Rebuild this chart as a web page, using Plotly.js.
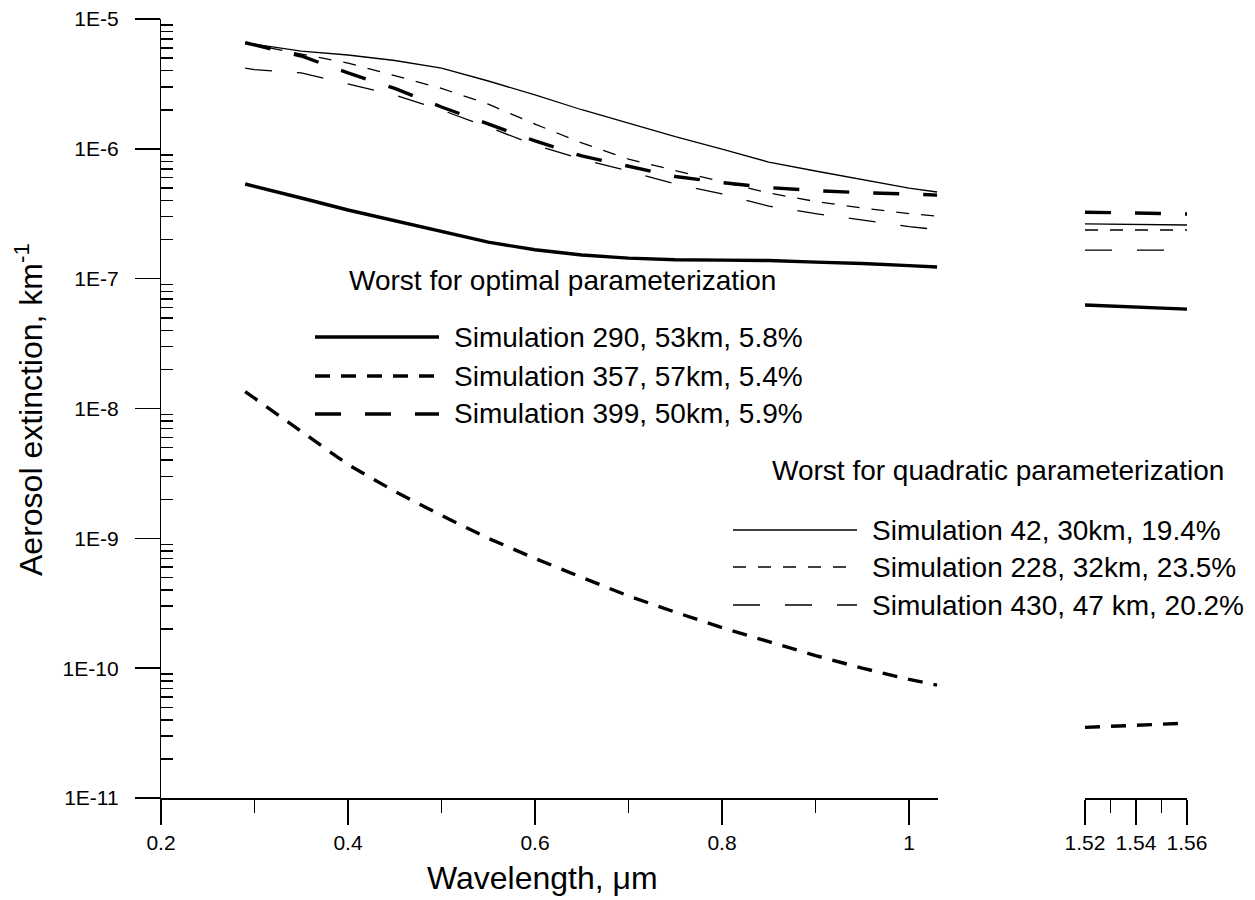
<!DOCTYPE html>
<html>
<head>
<meta charset="utf-8">
<script src="https://cdn.plot.ly/plotly-3.0.1.min.js"></script>
<style>html,body{margin:0;padding:0;background:#fff}#chart{width:1255px;height:900px}</style>
</head>
<body>
<div id="chart"></div>
<script>
// ---- data ----
const lambdaVis = [0.29,0.3,0.35,0.4,0.45,0.5,0.55,0.6,0.65,0.7,0.75,0.8,0.85,0.9,0.95,1.0,1.03];
const sim290 = [5.36e-7,5.13e-7,4.18e-7,3.38e-7,2.78e-7,2.29e-7,1.91e-7,1.67e-7,1.52e-7,1.44e-7,1.40e-7,1.39e-7,1.38e-7,1.34e-7,1.31e-7,1.26e-7,1.23e-7];
const sim357 = [1.35e-8,1.2e-8,6.6e-9,3.7e-9,2.3e-9,1.5e-9,1.0e-9,7.0e-10,5.0e-10,3.6e-10,2.7e-10,2.05e-10,1.6e-10,1.25e-10,1.0e-10,8.2e-11,7.4e-11];
const sim399 = [6.56e-6,6.31e-6,5.19e-6,3.84e-6,2.92e-6,2.10e-6,1.55e-6,1.15e-6,8.81e-7,7.31e-7,6.12e-7,5.50e-7,5.03e-7,4.77e-7,4.59e-7,4.49e-7,4.40e-7];
const sim42  = [6.56e-6,6.40e-6,5.66e-6,5.28e-6,4.79e-6,4.19e-6,3.33e-6,2.60e-6,2.00e-6,1.58e-6,1.24e-6,9.96e-7,7.90e-7,6.75e-7,5.81e-7,4.99e-7,4.65e-7];
const sim228 = [6.56e-6,6.31e-6,5.37e-6,4.58e-6,3.66e-6,2.92e-6,2.21e-6,1.55e-6,1.11e-6,8.34e-7,6.80e-7,5.55e-7,4.57e-7,3.93e-7,3.50e-7,3.17e-7,3.03e-7];
const sim430 = [4.19e-6,4.08e-6,3.84e-6,3.16e-6,2.60e-6,1.99e-6,1.47e-6,1.07e-6,8.34e-7,6.74e-7,5.36e-7,4.49e-7,3.62e-7,3.17e-7,2.83e-7,2.52e-7,2.39e-7];

const lambdaIR = [1.52,1.54,1.56];
const sim290IR = [6.27e-8,6.05e-8,5.83e-8];
const sim357IR = [3.50e-11,3.63e-11,3.77e-11];
const sim399IR = [3.25e-7,3.20e-7,3.15e-7];
const sim42IR  = [2.64e-7,2.62e-7,2.59e-7];
const sim228IR = [2.37e-7,2.37e-7,2.37e-7];
const sim430IR = [1.66e-7,1.66e-7,1.66e-7];

const yTickVals = [1e-11,1e-10,1e-9,1e-8,1e-7,1e-6,1e-5];
const yTickText = ['1E-11','1E-10','1E-9','1E-8','1E-7','1E-6','1E-5'];
const xTickVals = [0.2,0.4,0.6,0.8,1.0];
const xTickText = ['0.2','0.4','0.6','0.8','1'];
const xMinorVals = [0.3,0.5,0.7,0.9];
const x2TickVals = [1.52,1.54,1.56];
const x2TickText = ['1.52','1.54','1.56'];
const x2MinorVals = [1.53,1.55];

const xTitle = 'Wavelength, μm';
const yTitle = 'Aerosol extinction, km<sup>-1</sup>';
const optimalHeader = 'Worst for optimal parameterization';
const quadraticHeader = 'Worst for quadratic parameterization';
const optimalNames = ['Simulation 290, 53km, 5.8%','Simulation 357, 57km, 5.4%','Simulation 399, 50km, 5.9%'];
const quadraticNames = ['Simulation 42, 30km, 19.4%','Simulation 228, 32km, 23.5%','Simulation 430, 47 km, 20.2%'];

// ---- styles ----
const FONT = 'Arial, "Liberation Sans", Helvetica, sans-serif';
const THICK = 3.4, THIN = 1.3;
const st = {
  s290: {color:'#000', width:THICK, dash:'solid'},
  s357: {color:'#000', width:THICK, dash:'15px,11px'},
  s399: {color:'#000', width:THICK, dash:'26px,24px'},
  s42:  {color:'#000', width:THIN, dash:'solid'},
  s228: {color:'#000', width:THIN, dash:'13px,12px'},
  s430: {color:'#000', width:THIN, dash:'27px,25px'}
};

function tr(x, y, line, xa) {
  return {x:x, y:y, type:'scatter', mode:'lines', line:line, xaxis:xa, yaxis:'y', showlegend:false, hoverinfo:'skip'};
}
const data = [
  tr(lambdaVis, sim42, st.s42, 'x'),
  tr(lambdaVis, sim228, st.s228, 'x'),
  tr(lambdaVis, sim430, st.s430, 'x'),
  tr(lambdaVis, sim290, st.s290, 'x'),
  tr(lambdaVis, sim357, st.s357, 'x'),
  tr(lambdaVis, sim399, st.s399, 'x'),
  tr(lambdaIR, sim42IR, st.s42, 'x2'),
  tr(lambdaIR, sim228IR, st.s228, 'x2'),
  tr(lambdaIR, sim430IR, st.s430, 'x2'),
  tr(lambdaIR, sim290IR, st.s290, 'x2'),
  tr(lambdaIR, sim357IR, st.s357, 'x2'),
  tr(lambdaIR, sim399IR, st.s399, 'x2')
];

// minor log ticks 2..9 per decade
const yMinor = [];
for (let d = -11; d < -5; d++) for (let k = 2; k <= 9; k++) yMinor.push(k * Math.pow(10, d));

// ---- plot geometry (pixels) ----
const W = 1255, H = 900, L = 161, R = 68, T = 19, B = 102;
const PW = W - L - R, PH = H - T - B;
const px = v => (v - L) / PW;
const py = v => (H - B - v) / PH;

const shapes = [];
const annotations = [];
function txt(x, y, text, size, opts) {
  annotations.push(Object.assign({xref:'paper', yref:'paper', x:px(x), y:py(y), xanchor:'left', yanchor:'middle',
    text:text, showarrow:false, font:{family:FONT, size:size, color:'#000'}}, opts || {}));
}
function legendEntry(x0, x1, x2, y, line, text) {
  shapes.push({type:'line', xref:'paper', yref:'paper', x0:px(x0), x1:px(x1), y0:py(y), y1:py(y), line:line});
  txt(x2, y, text, 28);
}
txt(347, 280, optimalHeader, 28);
legendEntry(315, 439, 452, 337, st.s290, optimalNames[0]);
legendEntry(315, 439, 452, 376, st.s357, optimalNames[1]);
legendEntry(315, 439, 452, 414, st.s399, optimalNames[2]);
txt(770, 470, quadraticHeader, 28);
legendEntry(733, 857, 870, 530, st.s42, quadraticNames[0]);
legendEntry(733, 857, 870, 567, st.s228, quadraticNames[1]);
legendEntry(733, 857, 870, 605, st.s430, quadraticNames[2]);

// axis titles placed as annotations where the reference puts them
txt(425, 878, xTitle, 32);
txt(29, 410, yTitle, 32, {xanchor:'center', yanchor:'middle', textangle:-90});

const NB = '\u00a0\u00a0';
const axisCommon = {
  showline:true, linecolor:'#000', linewidth:1.5, showgrid:false, zeroline:false,
  ticks:'outside', ticklen:25, tickwidth:1.5, tickcolor:'#000',
  tickfont:{family:FONT, size:21, color:'#000'}, tickmode:'array'
};

const layout = {
  width:W, height:H,
  margin:{l:L, r:R, t:T, b:B, pad:0},
  paper_bgcolor:'#fff', plot_bgcolor:'#fff',
  showlegend:false,
  xaxis: Object.assign({}, axisCommon, {
    domain:[0, px(938)], range:[0.2, 1.031], anchor:'y',
    tickvals:xTickVals, ticktext:xTickText,
    minor:{tickmode:'array', tickvals:xMinorVals, ticks:'outside', ticklen:13, tickwidth:1.5, tickcolor:'#000'}
  }),
  xaxis2: Object.assign({}, axisCommon, {
    domain:[px(1085), 1], range:[1.52, 1.56], anchor:'y',
    tickvals:x2TickVals, ticktext:x2TickText,
    minor:{tickmode:'array', tickvals:x2MinorVals, ticks:'outside', ticklen:13, tickwidth:1.5, tickcolor:'#000'}
  }),
  yaxis: Object.assign({}, axisCommon, {
    type:'log', range:[-11, -5], anchor:'x',
    tickvals:yTickVals, ticktext:yTickText.map(t => t + NB),
    minor:{tickmode:'array', tickvals:yMinor, ticks:'inside', ticklen:12, tickwidth:1.5, tickcolor:'#000'}
  }),
  shapes:shapes,
  annotations:annotations
};

Plotly.newPlot('chart', data, layout, {staticPlot:true, displayModeBar:false});
</script>
</body>
</html>
